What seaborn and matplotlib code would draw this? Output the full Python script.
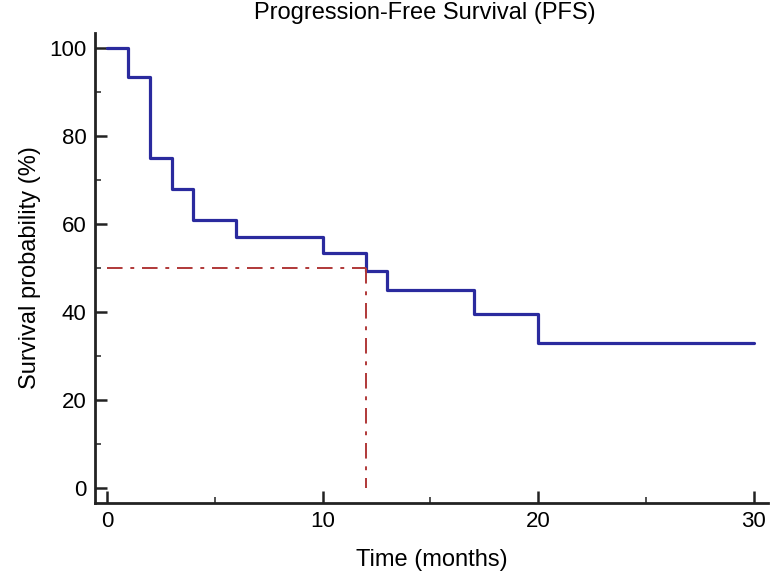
import matplotlib
matplotlib.use("Agg")
import matplotlib.pyplot as plt
from matplotlib.ticker import MultipleLocator
import seaborn as sns
import pandas as pd

# Kaplan-Meier style PFS curve
times = [0, 1, 2, 3, 4, 6, 10, 12, 13, 17, 20, 30]
survival = [100, 93.3, 75, 68, 61, 57.1, 53.3, 49.3, 44.9, 39.5, 33, 33]
median_time = 12
median_surv = 50

df = pd.DataFrame({"Time": times, "Survival": survival})

sns.set_theme(style="ticks")
plt.rcParams['font.family'] = ['Liberation Sans', 'DejaVu Sans']

fig = plt.figure(figsize=(7.73, 5.77), dpi=100)
ax = fig.add_axes([0.1229, 0.1282, 0.8706, 0.8146])

sns.lineplot(data=df, x="Time", y="Survival", drawstyle="steps-post",
             color="#2a2a9e", linewidth=2.3, ax=ax)

# median reference lines
ax.plot([0, median_time], [median_surv, median_surv], color="#b03838",
        linewidth=1.4, dashes=[8, 4, 2, 4])
ax.plot([median_time, median_time], [median_surv, 0], color="#b03838",
        linewidth=1.4, dashes=[8, 4, 2, 4])

ax.set_xlim(-0.55, 30.65)
ax.set_ylim(-3.4, 103.4)
ax.xaxis.set_major_locator(MultipleLocator(10))
ax.xaxis.set_minor_locator(MultipleLocator(5))
ax.yaxis.set_major_locator(MultipleLocator(20))
ax.yaxis.set_minor_locator(MultipleLocator(10))
ax.tick_params(which="major", direction="in", length=8.5, width=1.8,
               color="#222222", labelsize=16, pad=6, labelcolor="black")
ax.tick_params(which="minor", direction="in", length=4, width=1.1,
               color="#222222")

sns.despine(ax=ax)
for s in ["left", "bottom"]:
    ax.spines[s].set_linewidth(2.0)
    ax.spines[s].set_color("#222222")

ax.set_xlabel("Time (months)", fontsize=17, labelpad=12, color="black")
ax.set_ylabel("Survival probability (%)", fontsize=17, labelpad=6, color="black")
fig.suptitle("Progression-Free Survival (PFS)", fontsize=17, x=0.55, y=0.997,
             va="top", color="black")

fig.savefig("out.png", dpi=100)
